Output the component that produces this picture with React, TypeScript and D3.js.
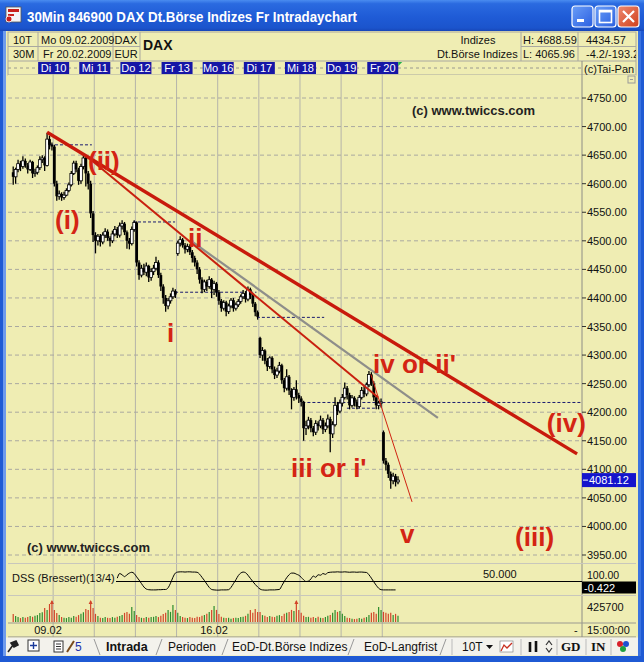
import React from 'react';
import * as d3 from 'd3';

const dayLabels = ['Di 10', 'Mi 11', 'Do 12', 'Fr 13', 'Mo 16', 'Di 17', 'Mi 18', 'Do 19', 'Fr 20'];
const barsPerDay = 17;
const totalSlots = 160;
const priceTicks = [3950, 4000, 4050, 4100, 4150, 4200, 4250, 4300, 4350, 4400, 4450, 4500, 4550, 4600, 4650, 4700, 4750];
const lastPrice = 4081.12;

const opens = [
  4620, 4612, 4625, 4635, 4630, 4640, 4632, 4625, 4638, 4618, 4620, 4628, 4642, 4645, 4632, 4678, 4668,
  4665, 4600, 4578, 4582, 4576, 4580, 4588, 4598, 4618, 4636, 4625, 4605, 4630, 4645, 4618, 4600, 4548,
  4510, 4500, 4508, 4498, 4510, 4516, 4505, 4500, 4512, 4520, 4510, 4526, 4530, 4515, 4500, 4495, 4520,
  4532, 4462, 4440, 4452, 4445, 4456, 4436, 4446, 4452, 4462, 4440, 4420, 4400, 4386, 4395, 4402, 4412,
  4478, 4496, 4502, 4492, 4485, 4490, 4480, 4470, 4462, 4450, 4432, 4415, 4428, 4420, 4432, 4415, 4425,
  4410, 4395, 4382, 4392, 4376, 4386, 4396, 4382, 4388, 4394, 4402, 4408, 4398, 4415, 4405, 4390, 4375,
  4330, 4300, 4308, 4290, 4280, 4295, 4275, 4265, 4272, 4282, 4256, 4242, 4262, 4238, 4226, 4240, 4230,
  4224, 4218, 4172, 4176, 4186, 4172, 4165, 4180, 4176, 4186, 4170, 4176, 4188, 4162, 4178, 4212, 4202,
  4216, 4226, 4242, 4230, 4212, 4225, 4218, 4210, 4226, 4238, 4232, 4248, 4266, 4250, 4226, 4212, 4216,
  4165, 4115, 4108, 4092, 4080, 4088, 4078,
];
const highs = [
  4630, 4628, 4642, 4640, 4648, 4644, 4636, 4642, 4640, 4626, 4632, 4648, 4650, 4648, 4689, 4684, 4672,
  4668, 4605, 4588, 4585, 4586, 4592, 4602, 4622, 4640, 4640, 4628, 4635, 4652, 4648, 4622, 4605, 4552,
  4515, 4512, 4512, 4515, 4522, 4520, 4508, 4518, 4526, 4524, 4532, 4536, 4533, 4518, 4505, 4525, 4536,
  4534, 4466, 4458, 4460, 4462, 4458, 4452, 4458, 4472, 4466, 4444, 4424, 4405, 4400, 4408, 4418, 4415,
  4500, 4508, 4505, 4496, 4495, 4494, 4484, 4474, 4466, 4454, 4436, 4432, 4432, 4438, 4435, 4430, 4428,
  4414, 4398, 4396, 4395, 4390, 4400, 4400, 4392, 4398, 4406, 4414, 4412, 4420, 4418, 4408, 4393, 4378,
  4332, 4314, 4310, 4295, 4298, 4298, 4280, 4278, 4288, 4285, 4260, 4275, 4265, 4242, 4244, 4256, 4234,
  4228, 4220, 4185, 4192, 4190, 4176, 4186, 4184, 4194, 4190, 4182, 4196, 4192, 4184, 4226, 4218, 4222,
  4232, 4252, 4246, 4234, 4230, 4228, 4222, 4230, 4244, 4246, 4252, 4272, 4270, 4254, 4230, 4220, 4224,
  4168, 4120, 4112, 4096, 4094, 4092, 4088,
];
const lows = [
  4598, 4600, 4620, 4622, 4626, 4628, 4618, 4622, 4610, 4612, 4616, 4624, 4636, 4622, 4630, 4660, 4658,
  4595, 4570, 4572, 4570, 4572, 4578, 4585, 4595, 4615, 4620, 4598, 4600, 4625, 4595, 4590, 4540, 4498,
  4478, 4492, 4490, 4494, 4505, 4500, 4490, 4496, 4508, 4505, 4506, 4520, 4510, 4486, 4485, 4492, 4516,
  4455, 4432, 4436, 4440, 4438, 4428, 4430, 4440, 4448, 4435, 4412, 4390, 4376, 4380, 4390, 4398, 4400,
  4474, 4490, 4488, 4478, 4480, 4475, 4462, 4455, 4442, 4425, 4408, 4410, 4412, 4416, 4400, 4405, 4402,
  4388, 4376, 4378, 4368, 4372, 4382, 4376, 4378, 4384, 4390, 4398, 4392, 4394, 4398, 4384, 4368, 4362,
  4295, 4290, 4284, 4272, 4276, 4268, 4258, 4260, 4268, 4250, 4235, 4238, 4230, 4205, 4220, 4222, 4216,
  4210, 4150, 4160, 4170, 4165, 4158, 4160, 4168, 4172, 4162, 4165, 4172, 4130, 4155, 4175, 4195, 4198,
  4210, 4222, 4222, 4205, 4208, 4210, 4205, 4207, 4222, 4226, 4228, 4244, 4246, 4220, 4205, 4205, 4208,
  4110, 4098, 4085, 4066, 4074, 4070, 4074,
];
const closes = [
  4612, 4625, 4635, 4630, 4640, 4632, 4625, 4638, 4618, 4620, 4628, 4642, 4645, 4632, 4678, 4668, 4665,
  4600, 4578, 4582, 4576, 4580, 4588, 4598, 4618, 4636, 4625, 4605, 4630, 4645, 4618, 4600, 4548, 4510,
  4500, 4508, 4498, 4510, 4516, 4505, 4500, 4512, 4520, 4510, 4526, 4530, 4515, 4500, 4495, 4520, 4532,
  4462, 4440, 4452, 4445, 4456, 4436, 4446, 4452, 4462, 4440, 4420, 4400, 4386, 4395, 4402, 4412, 4406,
  4496, 4502, 4492, 4485, 4490, 4480, 4470, 4462, 4450, 4432, 4415, 4428, 4420, 4432, 4415, 4425, 4410,
  4395, 4382, 4392, 4376, 4386, 4396, 4382, 4388, 4394, 4402, 4408, 4398, 4415, 4405, 4390, 4375, 4367,
  4300, 4308, 4290, 4280, 4295, 4275, 4265, 4272, 4282, 4256, 4242, 4262, 4238, 4226, 4240, 4230, 4224,
  4218, 4172, 4176, 4186, 4172, 4165, 4180, 4176, 4186, 4170, 4176, 4188, 4162, 4178, 4212, 4202, 4216,
  4226, 4242, 4230, 4212, 4225, 4218, 4210, 4226, 4238, 4232, 4248, 4266, 4250, 4226, 4212, 4216, 4218,
  4115, 4108, 4092, 4080, 4088, 4078, 4081.12,
];
// volume in thousands
const volumes = [
  160, 120, 100, 80, 100, 85, 100, 120, 105, 125, 140, 180, 200, 285, 245, 365, 490,
  245, 180, 140, 100, 85, 80, 100, 85, 120, 105, 140, 165, 200, 265, 245, 530, 285,
  165, 120, 85, 80, 100, 85, 80, 100, 85, 105, 120, 140, 185, 205, 165, 305, 225,
  140, 100, 85, 80, 100, 85, 100, 105, 120, 100, 125, 160, 185, 245, 205, 345, 245,
  185, 120, 100, 85, 80, 100, 85, 80, 105, 100, 125, 140, 165, 205, 245, 325, 245,
  160, 105, 85, 80, 85, 65, 80, 85, 80, 100, 105, 125, 165, 245, 185, 265, 205,
  205, 140, 125, 100, 120, 105, 100, 125, 140, 120, 165, 185, 205, 245, 225, 510, 245,
  185, 125, 100, 105, 85, 100, 80, 105, 85, 80, 100, 125, 140, 185, 245, 205, 225,
  165, 120, 85, 80, 65, 60, 65, 80, 65, 85, 100, 140, 185, 205, 165, 305, 245,
  205, 185, 165, 185, 140, 165, 125,
];
const volMax = 425.7;
const dssStart = 43;
const dss = [
  66, 88, 82, 73, 82, 90, 94, 88, 72, 57, 40, 24, 14, 11, 10, 10, 10, 11, 11, 12, 12,
  20, 42, 70, 90, 95, 96, 96, 95, 96, 96, 95, 95, 94, 85, 70, 55, 38, 22, 12, 10, 9, 9,
  10, 10, 10, 11, 22, 40, 58, 78, 90, 95, 92, 80, 65, 50, 36, 24, 14, 10, 9, 9, 10, 10,
  10, 11, 12, 30, 50, 68, 82, 90, 90, 85, 80, 70, 58, 50, 52, 62, 76, 70, 82, 80, 88, 84,
  92, 94, 95, 95, 96, 95, 95, 96, 95, 94, 95, 95, 94, 95, 95, 94, 93, 82, 66, 48, 32, 18,
  11, 10, 10, 10, 10, 10, 10,
];
const dssLast = -0.422;

// annotations (bar index, price)
const trendLines = [
  { b1: 73.6, p1: 4501, b2: 176, p2: 4190, color: '#8e8e8a', w: 2.2 },
  { b1: 30.6, p1: 4649, b2: 151.2, p2: 4226, color: '#c8200f', w: 2 },
  { b1: 14.5, p1: 4690, b2: 233.5, p2: 4127, color: '#c81a0c', w: 3.4 },
  { b1: 148.3, p1: 4266, b2: 165.3, p2: 4043, color: '#d02412', w: 1 },
];
const dottedLevels = [
  { b1: 15.7, b2: 33, p: 4668 },
  { b1: 50, b2: 67.4, p: 4533 },
  { b1: 67.4, b2: 101, p: 4410 },
  { b1: 101.2, b2: 129, p: 4366 },
  { b1: 120, b2: 235, p: 4217 },
  { b1: 138.4, b2: 151, p: 4207 },
];
const waveLabels = [
  { t: '(ii)', b: 31.4, p: 4624 },
  { t: '(i)', b: 17.8, p: 4521 },
  { t: 'ii', b: 72.7, p: 4489 },
  { t: 'i', b: 64, p: 4323 },
  { t: "iii or i'", b: 115.3, p: 4087 },
  { t: "iv or ii'", b: 149.2, p: 4268 },
  { t: '(iv)', b: 221, p: 4165 },
  { t: 'v', b: 160.3, p: 3971 },
  { t: '(iii)', b: 207.9, p: 3966 },
];

const SANS = "'Liberation Sans', Arial, sans-serif";
const BG = '#efedb3';

export default function App() {
  const x = d3.scaleLinear().domain([0, totalSlots]).range([12, 12 + totalSlots * 2.42]);
  const y = d3.scaleLinear().domain([3950, 4750]).range([555, 98]);
  const dssY = d3.scaleLinear().domain([0, 100]).range([592, 571]);
  const volY = d3.scaleLinear().domain([0, volMax]).range([622, 601]);
  const dssLine = d3.line<number>().x((d, i) => x(dssStart + i + 0.5)).y((d) => dssY(d)).curve(d3.curveMonotoneX);
  const dayX = dayLabels.map((_, d) => x((d + 1) * barsPerDay));

  return (
    <svg width={644} height={662} style={{ position: 'absolute', left: 0, top: 0, display: 'block' }} fontFamily={SANS}>
      <defs>
        <linearGradient id="tb" x1="0" y1="0" x2="0" y2="1">
          <stop offset="0" stopColor="#4a8cf0" />
          <stop offset="0.12" stopColor="#2a6ae0" />
          <stop offset="0.55" stopColor="#1f5bd6" />
          <stop offset="0.9" stopColor="#1b54cc" />
          <stop offset="1" stopColor="#1746b8" />
        </linearGradient>
        <linearGradient id="btn" x1="0" y1="0" x2="1" y2="1">
          <stop offset="0" stopColor="#6a9ef8" />
          <stop offset="1" stopColor="#2a5fe0" />
        </linearGradient>
        <linearGradient id="cls" x1="0" y1="0" x2="1" y2="1">
          <stop offset="0" stopColor="#ee8a70" />
          <stop offset="1" stopColor="#d0401c" />
        </linearGradient>
        <clipPath id="pricePanel"><rect x={8} y={75} width={574} height={488} /></clipPath>
        <clipPath id="rightCol"><rect x={582} y={32} width={54} height={605} /></clipPath>
      </defs>

      {/* window frame */}
      <rect x={0} y={0} width={644} height={662} fill="#1f5ad4" />
      <rect x={0} y={0} width={644} height={31} fill="url(#tb)" />
      <rect x={3} y={31} width={3} height={625} fill="#6f9bec" />
      <rect x={638} y={31} width={3} height={625} fill="#3a72e0" />
      <rect x={6} y={31} width={632} height={625} fill={BG} />

      {/* title */}
      <g>
        <rect x={6} y={7} width={15} height={15} fill="#f4f4f4" stroke="#555" strokeWidth={0.8} />
        <rect x={8} y={9} width={11} height={3} fill="#c8201c" />
        <rect x={8} y={14} width={6} height={2} fill="#c8201c" />
        <circle cx={9} cy={19} r={3} fill="#c8201c" stroke="#fff" strokeWidth={0.8} />
        <text x={27} y={22} fill="#fff" fontWeight="bold" fontSize={15.5} textLength={330} lengthAdjust="spacingAndGlyphs">
          30Min 846900 DAX Dt.Börse Indizes Fr Intradaychart
        </text>
        <rect x={572} y={6} width={21} height={21} rx={3} fill="url(#btn)" stroke="#fff" strokeWidth={1.2} />
        <rect x={577} y={19} width={7} height={3} fill="#fff" />
        <rect x={595} y={6} width={21} height={21} rx={3} fill="url(#btn)" stroke="#fff" strokeWidth={1.2} />
        <rect x={599.5} y={10.5} width={12} height={12} fill="none" stroke="#fff" strokeWidth={1.6} />
        <line x1={599.5} y1={11.5} x2={611.5} y2={11.5} stroke="#fff" strokeWidth={2} />
        <rect x={618} y={6} width={21} height={21} rx={3} fill="url(#cls)" stroke="#fff" strokeWidth={1.2} />
        <path d="M623,11 L634,22 M634,11 L623,22" stroke="#fff" strokeWidth={2.2} />
      </g>

      {/* header */}
      <g fontSize={11} fill="#111">
        <rect x={8} y={32} width={628} height={43} fill={BG} stroke="#a9a8a0" strokeWidth={1} />
        <line x1={8} y1={46.5} x2={140} y2={46.5} stroke="#a9a8a0" />
        <line x1={521} y1={46.5} x2={636} y2={46.5} stroke="#a9a8a0" />
        <line x1={8} y1={61} x2={636} y2={61} stroke="#a9a8a0" />
        {[38, 113, 140, 521, 578].map((v) => (
          <line key={v} x1={v} y1={32} x2={v} y2={61} stroke="#a9a8a0" />
        ))}
        <text x={13} y={44}>10T</text>
        <text x={13} y={58}>30M</text>
        <text x={41} y={44}>Mo 09.02.2009</text>
        <text x={43} y={58}>Fr 20.02.2009</text>
        <text x={114.5} y={44}>DAX</text>
        <text x={114.5} y={58}>EUR</text>
        <text x={143} y={50} fontWeight="bold" fontSize={14}>DAX</text>
        <text x={478} y={44} textAnchor="middle">Indizes</text>
        <text x={437} y={58}>Dt.Börse Indizes</text>
        <text x={523} y={44}>H: 4688.59</text>
        <text x={523} y={58}>L: 4065.96</text>
        <g clipPath="url(#rightCol)">
          <text x={586} y={44}>4434.57</text>
          <text x={586} y={58}>-4.2/-193.2</text>
        </g>
      </g>

      {/* panels background */}
      <rect x={8} y={75} width={628} height={562} fill={BG} />

      {/* vertical day grid */}
      {dayX.map((v, i) => (
        <line key={'vg' + i} x1={v} x2={v} y1={61} y2={637} stroke="#b5b4aa" strokeWidth={1} />
      ))}
      {/* date row */}
      <line x1={8} x2={582} y1={68} y2={68} stroke="#9a9a90" strokeDasharray="3,3" />
      {dayLabels.map((d, i) => (
        <g key={'dl' + i}>
          <rect x={dayX[i] - 15} y={62} width={31} height={12} fill="#1616a6" />
          <text x={dayX[i] + 0.5} y={72} fontSize={11} fill="#fff" textAnchor="middle">{d}</text>
        </g>
      ))}
      <path d={`M${dayX[8] + 16},62 L${dayX[8] + 20},62 L${dayX[8] + 16},66 Z`} fill="#22b04a" />
      <line x1={582} x2={582} y1={61} y2={637} stroke="#8e8d86" />
      <text x={584} y={73} fontSize={11} fill="#111">(c)Tai-Pan</text>
      <rect x={628} y={76} width={7} height={7} fill="none" stroke="#999" />
      <line x1={630} x2={633} y1={79.5} y2={79.5} stroke="#999" />

      {/* horizontal price grid */}
      {priceTicks.map((p) => (
        <g key={'pg' + p}>
          <line x1={8} x2={582} y1={y(p)} y2={y(p)} stroke="#aaa9a0" strokeDasharray="4,3" />
          <line x1={582} x2={586} y1={y(p)} y2={y(p)} stroke="#333" />
          <text x={587} y={y(p) + 4} fontSize={11} fill="#111">{p.toFixed(2)}</text>
        </g>
      ))}

      {/* price panel */}
      <g clipPath="url(#pricePanel)">
        {dottedLevels.map((d, i) => (
          <line key={'dot' + i} x1={x(d.b1)} x2={x(d.b2)} y1={y(d.p)} y2={y(d.p)} stroke="#1a1a70" strokeWidth={1} strokeDasharray="3,2" />
        ))}
        {closes.map((c, i) => {
          const o = opens[i];
          const hi = Math.max(highs[i], o, c);
          const lo = Math.min(lows[i], o, c);
          const cx = x(i + 0.5);
          const up = c >= o;
          const top = y(Math.max(o, c));
          const bot = y(Math.min(o, c));
          return (
            <g key={'c' + i}>
              <line x1={cx} x2={cx} y1={y(hi)} y2={y(lo)} stroke="#000" strokeWidth={1.3} />
              <rect
                x={cx - (up ? 1.4 : 1.4)}
                y={top}
                width={2.8}
                height={Math.max(1.2, bot - top)}
                fill={up ? '#fff' : '#000'}
                stroke="#000"
                strokeWidth={up ? 0.8 : 0}
              />
            </g>
          );
        })}
        {trendLines.map((l, i) => (
          <line key={'tl' + i} x1={x(l.b1)} y1={y(l.p1)} x2={x(l.b2)} y2={y(l.p2)} stroke={l.color} strokeWidth={l.w} />
        ))}
        <text x={412} y={115} fontSize={13} fontWeight="bold" fill="#222">(c)  www.twiccs.com</text>
        <text x={27} y={552} fontSize={13} fontWeight="bold" fill="#222">(c)  www.twiccs.com</text>
      </g>
      {waveLabels.map((l, i) => (
        <text key={'wl' + i} x={x(l.b)} y={y(l.p)} fontSize={26} fontWeight="bold" fill="#d42414">{l.t}</text>
      ))}
      <rect x={582} y={y(lastPrice) - 7} width={54} height={14} fill="#1414cc" />
      <line x1={583} x2={588} y1={y(lastPrice)} y2={y(lastPrice)} stroke="#fff" />
      <text x={589} y={y(lastPrice) + 4} fontSize={11} fill="#fff">{lastPrice.toFixed(2)}</text>

      {/* panel separators */}
      <line x1={8} x2={636} y1={563.5} y2={563.5} stroke="#c8c7bc" />
      <line x1={8} x2={636} y1={595.5} y2={595.5} stroke="#c8c7bc" />
      <line x1={8} x2={636} y1={623} y2={623} stroke="#9a9990" />
      <line x1={8} x2={636} y1={637} y2={637} stroke="#8e8d86" />

      {/* DSS */}
      <text x={12} y={582} fontSize={11} fill="#111">DSS (Bressert)(13/4)</text>
      <line x1={116} x2={582} y1={dssY(50)} y2={dssY(50)} stroke="#000" strokeWidth={1} />
      <text x={483} y={578} fontSize={11} fill="#111">50.000</text>
      <path d={dssLine(dss) || ''} fill="none" stroke="#000" strokeWidth={1} />
      <text x={587} y={578.5} fontSize={10.5} fill="#111">100.00</text>
      <rect x={582} y={581.5} width={54} height={12} fill="#000" />
      <text x={584} y={591.5} fontSize={11} fill="#fff">{dssLast.toFixed(3)}</text>

      {/* Volume */}
      {volumes.map((v, i) => {
        const cx = x(i + 0.5);
        const up = closes[i] >= opens[i];
        const col = up ? '#2c8c2c' : '#d2452a';
        const over = v > volMax;
        const top = volY(Math.min(v, volMax));
        return (
          <g key={'v' + i}>
            <line x1={cx} x2={cx} y1={622} y2={top} stroke={col} strokeWidth={1.2} />
            {over && <path d={`M${cx - 2},${top + 3} L${cx},${top - 1} L${cx + 2},${top + 3} Z`} fill={col} />}
          </g>
        );
      })}
      <text x={587} y={611} fontSize={11} fill="#111">425700</text>

      {/* time axis */}
      <text x={48} y={634} fontSize={11} fill="#111" textAnchor="middle">09.02</text>
      <text x={214} y={634} fontSize={11} fill="#111" textAnchor="middle">16.02</text>
      <text x={574} y={634} fontSize={11} fill="#111">-</text>
      <text x={587} y={634} fontSize={11} fill="#111">15:00:00</text>

      {/* bottom tab bar */}
      <rect x={6} y={637.5} width={632} height={18} fill="#f3f2ec" />
      <g fontSize={12} fill="#111">
        <path d="M8,652 L13,645 M11,643 L16,641 L18,645 L14,647 Z" stroke="#222" strokeWidth={1.6} fill="#222" />
        <rect x={28} y={640} width={11} height={11} fill="#fff" stroke="#333" />
        <path d="M30,645.5 L37,645.5 M33.5,642 L33.5,649" stroke="#1a3a9a" strokeWidth={1.4} />
        <rect x={54} y={641} width={9} height={11} fill="#fff" stroke="#333" />
        <path d="M56,644 L61,644 M56,646.5 L61,646.5 M56,649 L61,649" stroke="#333" />
        <path d="M67,652 L74,641" stroke="#7a4a1a" strokeWidth={2} />
        <text x={75} y={651} fill="#2233aa">5</text>
        <line x1={94} y1={639} x2={100} y2={655} stroke="#999" />
        <text x={106} y={651} fontWeight="bold" fontSize={12.5}>Intrada</text>
        <line x1={156} y1={655} x2={162} y2={639} stroke="#999" />
        <text x={168} y={651}>Perioden</text>
        <line x1={222} y1={655} x2={228} y2={639} stroke="#999" />
        <text x={232} y={651}>EoD-Dt.Börse Indizes</text>
        <line x1={348} y1={655} x2={354} y2={639} stroke="#999" />
        <text x={364} y={651}>EoD-Langfrist</text>
        <line x1={440} y1={655} x2={446} y2={639} stroke="#999" />
        <line x1={452} y1={639} x2={452} y2={655} stroke="#bbb" />
        <text x={462} y={651}>10T</text>
        <path d="M486,645 L493,645 L489.5,649 Z" fill="#111" />
        <rect x={500} y={641} width={13} height={11} fill="#fff" stroke="#777" strokeWidth={0.6} />
        <path d="M501,651 L504,645 L507,648 L512,643" stroke="#c83020" fill="none" strokeWidth={1.3} />
        <line x1={521} y1={639} x2={521} y2={655} stroke="#bbb" />
        <path d="M530,642 L530,652 M536,641 L536,652" stroke="#111" strokeWidth={2.6} />
        <path d="M546,645 L549,641 L552,645 M546,648 L549,652 L552,648" stroke="#333" fill="none" strokeWidth={1.2} />
        <line x1={557} y1={639} x2={557} y2={655} stroke="#bbb" />
        <text x={561} y={651} fontWeight="bold" fontFamily="'Liberation Serif', serif" fontSize={13}>GD</text>
        <line x1={586} y1={639} x2={586} y2={655} stroke="#bbb" />
        <text x={591} y={651} fontWeight="bold" fontFamily="'Liberation Serif', serif" fontSize={13}>IN</text>
        <line x1={611} y1={639} x2={611} y2={655} stroke="#bbb" />
        <circle cx={620} cy={644} r={3} fill="#d8202a" />
        <circle cx={626} cy={644} r={3} fill="#2050d0" />
        <circle cx={623} cy={649} r={3} fill="#20a040" />
      </g>
    </svg>
  );
}
